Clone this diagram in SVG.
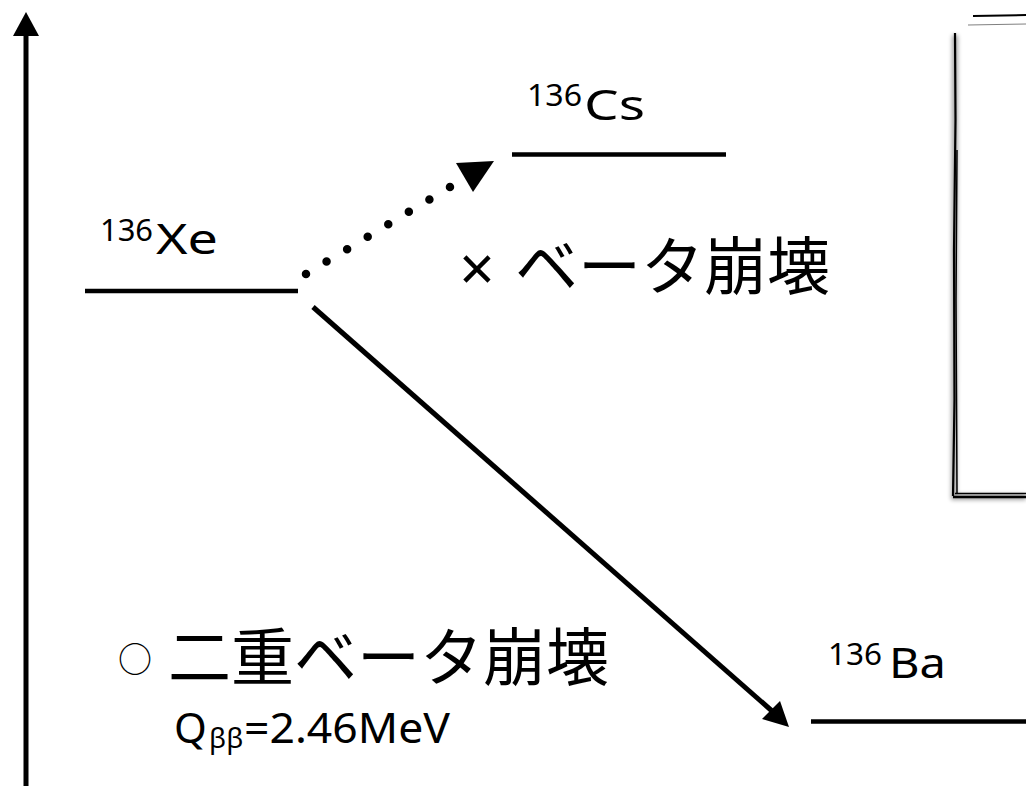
<svg xmlns="http://www.w3.org/2000/svg" width="1026" height="786" viewBox="0 0 1026 786">
<style>
.t{font-family:"Noto Sans","Noto Sans CJK JP",sans-serif;fill:#000}
.j{font-family:"Noto Sans CJK JP","Noto Sans",sans-serif;fill:#000}
.lvl{stroke:#000;stroke-width:4.5;fill:none}
</style>
<defs>
<filter id="sh" x="-20%" y="-5%" width="140%" height="110%"><feGaussianBlur stdDeviation="2"/></filter>
</defs>
<rect width="1026" height="786" fill="#fff"/>
<g id="axis">
<line x1="26" y1="34" x2="26" y2="786" stroke="#000" stroke-width="5"/>
<polygon points="26,12 13,36 39,36" fill="#000"/>
</g>
<g id="box">
<g filter="url(#sh)" opacity="0.35">
<path d="M955 35 L954 497 L1026 497" stroke="#000" stroke-width="6" fill="none"/>
</g>
<path d="M973 16 L1026 15" stroke="#000" stroke-width="2" fill="none"/>
<path d="M968 25 L1026 24" stroke="#000" stroke-width="1" opacity="0.5" fill="none"/>
<path d="M955 33 L955.5 120 L954 250 L954.5 400 L953 496" stroke="#000" stroke-width="2.2" fill="none"/>
<path d="M957 150 L956 300 L957 494" stroke="#000" stroke-width="1.5" fill="none"/>
<path d="M953 497 L1026 497" stroke="#000" stroke-width="2.5" fill="none"/>
<path d="M955 493.5 L1026 493.5" stroke="#000" stroke-width="1.3" fill="none"/>
</g>
<g id="xe">
<line class="lvl" x1="85" y1="291" x2="298" y2="291"/>
<text class="t" x="100" y="241" font-size="30" textLength="53" lengthAdjust="spacingAndGlyphs">136</text>
<text class="t" x="156" y="254" font-size="42" textLength="62" lengthAdjust="spacingAndGlyphs">Xe</text>
</g>
<g id="cs">
<line class="lvl" x1="512" y1="154.5" x2="726" y2="154.5"/>
<text class="t" x="527" y="106" font-size="30" textLength="55" lengthAdjust="spacingAndGlyphs">136</text>
<text class="t" x="584" y="120" font-size="42" textLength="61" lengthAdjust="spacingAndGlyphs">Cs</text>
</g>
<g id="ba">
<line class="lvl" x1="811" y1="721.5" x2="1026" y2="721.5"/>
<text class="t" x="828" y="665" font-size="30" textLength="54" lengthAdjust="spacingAndGlyphs">136</text>
<text class="t" x="889" y="678" font-size="42" textLength="57" lengthAdjust="spacingAndGlyphs">Ba</text>
</g>
<g id="connectors">
<line x1="306" y1="274" x2="450" y2="187" stroke="#000" stroke-width="8.5" stroke-linecap="round" stroke-dasharray="0 24.03"/>
<polygon points="494,161 456,163 473,192" fill="#000"/>
<line x1="313" y1="307" x2="772" y2="711" stroke="#000" stroke-width="5"/>
<polygon points="789,727 762,719 780,701" fill="#000"/>
</g>
<g id="beta-label">
<text class="t" x="477" y="291" font-size="62" text-anchor="middle">×</text>
<text class="j" x="515" y="289" font-size="63">ベータ崩壊</text>
</g>
<g id="double-beta-label">
<text class="j" x="135" y="672" font-size="34" text-anchor="middle">○</text>
<text class="j" x="168" y="680" font-size="63">二重ベータ崩壊</text>
<text class="t" y="743" font-size="42"><tspan x="174">Q</tspan><tspan x="209" y="748" font-size="28">ββ</tspan><tspan x="244" y="743" textLength="206" lengthAdjust="spacingAndGlyphs">=2.46MeV</tspan></text>
</g>
</svg>
